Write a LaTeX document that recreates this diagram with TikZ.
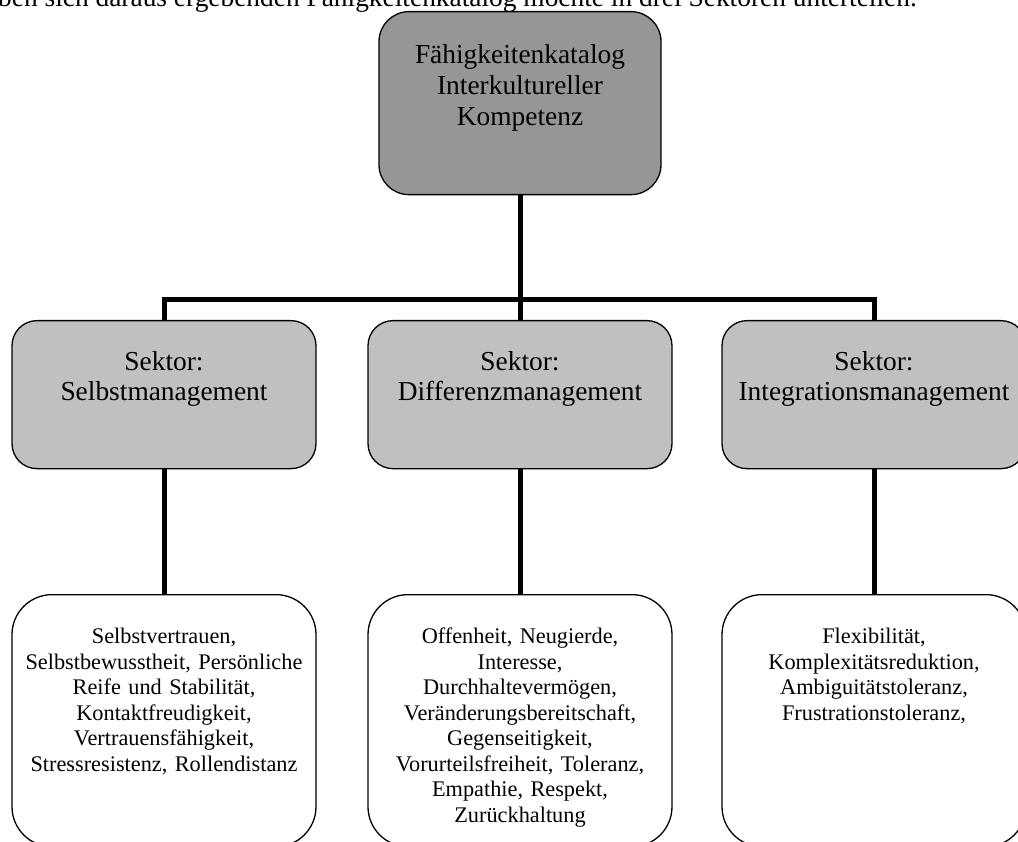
\documentclass[tikz,border=0pt]{standalone}
\usepackage{fontspec}
\setmainfont{Liberation Serif}
\usepackage{tikz}
\usetikzlibrary{positioning}
\definecolor{kopfgrau}{HTML}{969696}
\definecolor{sektorgrau}{HTML}{C0C0C0}
\tikzstyle{kopf}=[
        draw,
        line width=1.3pt,
        fill=kopfgrau,
        rounded corners=30pt,
        anchor=north,
        align=center,
        text width=262pt,
        inner xsep=10pt,
        inner ysep=0pt,
        text height=52pt,
        text depth=131pt,
        font=\fontsize{27.4pt}{31pt}\selectfont
]
\tikzstyle{sektor}=[
        draw,
        line width=1.3pt,
        fill=sektorgrau,
        rounded corners=25pt,
        anchor=north,
        align=center,
        text width=286pt,
        inner xsep=9pt,
        inner ysep=0pt,
        text height=50pt,
        text depth=98pt,
        font=\fontsize{27.4pt}{30pt}\selectfont
]
\tikzstyle{liste}=[draw,line width=1.3pt,fill=white,rounded corners=40pt,
anchor=north,align=center,text width=288pt,inner xsep=8pt,inner ysep=0pt,
text height=49pt,text depth=203pt,font=\fontsize{22.3pt}{25.5pt}\selectfont]
\tikzstyle{verbindung}=[line width=5pt]
\begin{document}
\begin{tikzpicture}[x=1pt,y=-1pt]
\useasboundingbox (0,0) rectangle (1018,842);
\clip (0,0) rectangle (1018,842);
\node[anchor=base east,inner sep=0pt,font=\fontsize{27.4pt}{31pt}\selectfont] (intro) at (917,7) {ben sich daraus ergebenden Fähigkeitenkatalog möchte in drei Sektoren unterteilen.};
\node[kopf] (top) at (520,11) {Fähigkeitenkatalog\\Interkultureller\\Kompetenz};
\node[sektor] (s1) at (164,320) {Sektor:\\Selbstmanagement};
\node[sektor] (s2) at (520,320) {Sektor:\\Differenzmanagement};
\node[sektor] (s3) at (874,320) {Sektor:\\Integrationsmanagement};
\node[liste] (l1) at (164,594) {Selbstvertrauen,\\Selbstbewusstheit, Persönliche\\Reife und Stabilität,\\Kontaktfreudigkeit,\\Vertrauensfähigkeit,\\Stressresistenz, Rollendistanz};
\node[liste] (l2) at (520,594) {Offenheit, Neugierde,\\Interesse,\\Durchhaltevermögen,\\Veränderungsbereitschaft,\\Gegenseitigkeit,\\Vorurteilsfreiheit, Toleranz,\\Empathie, Respekt,\\Zurückhaltung};
\node[liste] (l3) at (874,594) {Flexibilität,\\Komplexitätsreduktion,\\Ambiguitätstoleranz,\\Frustrationstoleranz,};
\coordinate (bar) at (520,300);
%Verbindungen
\draw[verbindung] (top) -- (bar);
\draw[verbindung] (s1) |- (bar) -| (s3);
\draw[verbindung] (bar) -- (s2);
\draw[verbindung] (s1) -- (l1);
\draw[verbindung] (s2) -- (l2);
\draw[verbindung] (s3) -- (l3);
\end{tikzpicture}
\end{document}
